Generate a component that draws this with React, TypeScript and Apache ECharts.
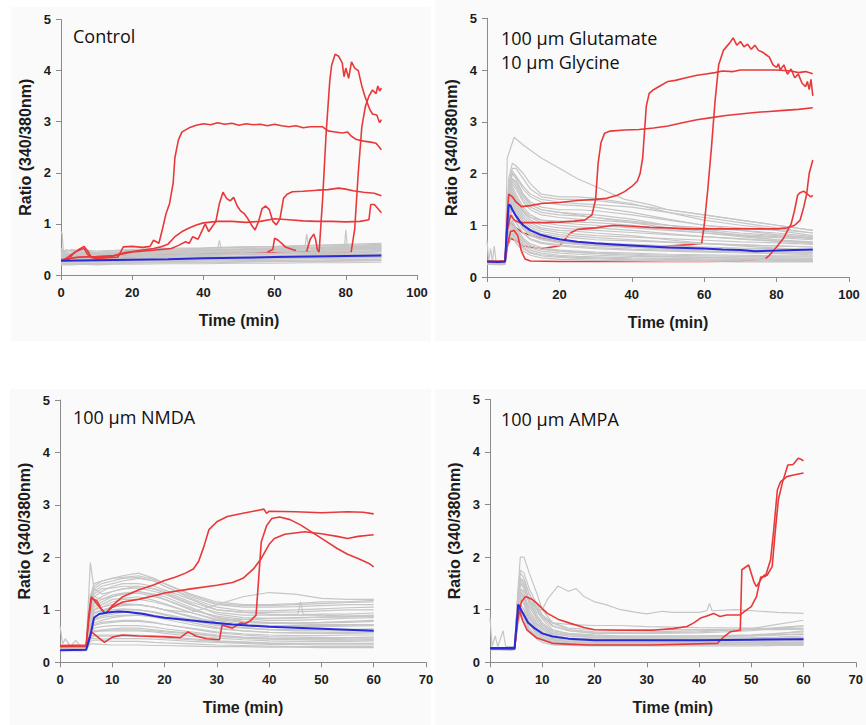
import React, { useEffect, useRef } from "react";
import * as echarts from "echarts";

// ---------------- Control ----------------
const CTRL_T = [0, 1, 3, 6, 10, 15, 20, 30, 40, 50, 60, 70, 80, 90];
const CTRL_GRAY = [
  [0.5, 0.44, 0.46, 0.47, 0.45, 0.47, 0.48, 0.5, 0.52, 0.54, 0.55, 0.57, 0.58, 0.6],
  [0.46, 0.42, 0.43, 0.44, 0.44, 0.45, 0.46, 0.48, 0.5, 0.51, 0.53, 0.54, 0.55, 0.57],
  [0.43, 0.4, 0.41, 0.42, 0.41, 0.43, 0.44, 0.46, 0.47, 0.49, 0.5, 0.52, 0.53, 0.54],
  [0.4, 0.38, 0.39, 0.4, 0.39, 0.41, 0.42, 0.44, 0.45, 0.47, 0.48, 0.49, 0.51, 0.52],
  [0.38, 0.36, 0.37, 0.38, 0.37, 0.38, 0.4, 0.41, 0.43, 0.44, 0.46, 0.47, 0.48, 0.5],
  [0.35, 0.34, 0.35, 0.36, 0.35, 0.36, 0.38, 0.39, 0.41, 0.42, 0.43, 0.45, 0.46, 0.47],
  [0.33, 0.32, 0.33, 0.34, 0.33, 0.34, 0.36, 0.37, 0.38, 0.4, 0.41, 0.42, 0.43, 0.45],
  [0.31, 0.3, 0.31, 0.32, 0.31, 0.32, 0.33, 0.35, 0.36, 0.37, 0.38, 0.4, 0.41, 0.42],
  [0.29, 0.28, 0.29, 0.3, 0.29, 0.3, 0.31, 0.33, 0.34, 0.35, 0.36, 0.37, 0.38, 0.4],
  [0.27, 0.26, 0.27, 0.28, 0.27, 0.28, 0.29, 0.3, 0.31, 0.32, 0.33, 0.34, 0.35, 0.37],
  [0.25, 0.25, 0.25, 0.26, 0.25, 0.26, 0.27, 0.28, 0.29, 0.3, 0.31, 0.32, 0.33, 0.34],
  [0.23, 0.23, 0.23, 0.24, 0.23, 0.24, 0.25, 0.26, 0.27, 0.28, 0.28, 0.29, 0.3, 0.31],
  [0.21, 0.21, 0.21, 0.22, 0.21, 0.22, 0.23, 0.24, 0.24, 0.25, 0.26, 0.26, 0.27, 0.28],
  [0.2, 0.2, 0.2, 0.21, 0.2, 0.21, 0.21, 0.22, 0.22, 0.23, 0.23, 0.24, 0.24, 0.25],
  [0.48, 0.45, 0.5, 0.46, 0.43, 0.44, 0.45, 0.47, 0.49, 0.5, 0.51, 0.53, 0.56, 0.58],
  [0.36, 0.35, 0.34, 0.36, 0.34, 0.35, 0.37, 0.38, 0.39, 0.41, 0.42, 0.44, 0.45, 0.48],
  [0.52, 0.47, 0.48, 0.49, 0.47, 0.48, 0.5, 0.52, 0.53, 0.55, 0.56, 0.58, 0.6, 0.62],
  [0.44, 0.41, 0.42, 0.43, 0.42, 0.44, 0.45, 0.47, 0.48, 0.5, 0.52, 0.53, 0.54, 0.56],
  [0.39, 0.37, 0.38, 0.39, 0.38, 0.4, 0.41, 0.43, 0.44, 0.46, 0.47, 0.48, 0.5, 0.51],
  [0.34, 0.33, 0.34, 0.35, 0.34, 0.35, 0.37, 0.38, 0.4, 0.41, 0.42, 0.44, 0.45, 0.46],
  [0.3, 0.29, 0.3, 0.31, 0.3, 0.31, 0.32, 0.34, 0.35, 0.36, 0.37, 0.39, 0.4, 0.41],
  [0.26, 0.26, 0.26, 0.27, 0.26, 0.27, 0.28, 0.29, 0.3, 0.31, 0.32, 0.33, 0.34, 0.35],
  [0.22, 0.22, 0.22, 0.23, 0.22, 0.23, 0.24, 0.25, 0.25, 0.26, 0.27, 0.27, 0.28, 0.29],
  [0.42, 0.39, 0.4, 0.41, 0.4, 0.42, 0.43, 0.45, 0.46, 0.48, 0.49, 0.51, 0.52, 0.53],
];
const CTRL_GRAY_EXTRA = [
  [[0, 0.85], [0.3, 0.82], [0.7, 0.45], [1.5, 0.5], [3, 0.46]],
  [[60, 0.5], [68.5, 0.52], [69, 0.8], [69.6, 0.52], [75, 0.5]],
  [[75, 0.5], [79.6, 0.52], [80, 0.88], [80.5, 0.5], [85, 0.52]],
  [[40, 0.47], [44, 0.5], [44.5, 0.68], [45, 0.5], [50, 0.5]],
];
// red segments that lie beneath the gray cloud
const CTRL_RED_UNDER = [
  [[0, 0.35], [10, 0.36], [20, 0.38], [30, 0.4], [40, 0.42], [50, 0.43], [60, 0.44], [65, 0.45], [69, 0.46]],
  [[0, 0.3], [10, 0.33], [20, 0.36], [30, 0.38], [40, 0.4], [50, 0.42], [58, 0.45]],
  [[66, 0.48], [70, 0.45], [75, 0.44], [80, 0.44], [81.5, 0.45]],
];
const CTRL_RED = [
  [[1, 0.3], [2.5, 0.38], [4, 0.45], [5.5, 0.5], [6.5, 0.52], [7.5, 0.4], [8.5, 0.35], [10, 0.33], [13, 0.34], [16, 0.35], [17.5, 0.55], [20, 0.56], [23, 0.54], [25, 0.56], [26, 0.68], [27.5, 0.62], [28.5, 0.9], [29.5, 1.2], [30.5, 1.4], [31.5, 1.8], [32, 2.3], [33, 2.65], [34, 2.8], [36, 2.88], [38, 2.93], [40, 2.96], [42, 2.94], [44, 2.98], [46, 2.95], [48, 2.97], [50, 2.93], [52, 2.96], [54, 2.94], [56, 2.95], [58, 2.92], [60, 2.95], [62, 2.92], [64, 2.9], [66, 2.92], [68, 2.88], [70, 2.9], [72, 2.9], [73.5, 2.9], [75, 2.82], [77, 2.8], [79, 2.78], [80.5, 2.8], [81.5, 2.72], [83, 2.65], [85, 2.62], [87, 2.6], [88.5, 2.58], [90, 2.45]],
  [[69, 0.46], [70, 0.7], [71, 0.8], [71.5, 0.7], [72, 0.5], [72.5, 0.45], [73.5, 1.5], [74.5, 2.8], [75.5, 3.8], [76, 4.1], [77, 4.32], [78, 4.28], [79, 4.15], [79.5, 3.88], [80, 4.05], [80.8, 3.85], [81.6, 4.17], [82.5, 4.05], [83.5, 4.0], [84.5, 3.7], [85.4, 3.49], [86.8, 3.23], [87.5, 3.15], [88.7, 3.13], [89.5, 2.98], [90, 3.04]],
  [[58, 0.45], [59.5, 0.5], [60, 0.72], [61, 0.68], [62, 0.62], [63, 0.55], [65, 0.5], [66, 0.48]],
  [[81.5, 0.45], [82.5, 0.9], [83.5, 2.0], [84.5, 2.9], [85.5, 3.3], [86.5, 3.5], [87.5, 3.62], [88.5, 3.55], [89, 3.7], [89.5, 3.6], [90, 3.66]],
  [[0, 0.3], [5, 0.35], [10, 0.36], [15, 0.38], [20, 0.45], [25, 0.48], [28, 0.5], [31, 0.52], [33, 0.58], [35, 0.65], [36, 0.62], [37, 0.75], [38.5, 0.7], [39.5, 0.85], [40.5, 1.0], [41.5, 0.85], [42.5, 0.95], [43.5, 1.05], [44.5, 1.4], [45.5, 1.62], [46.5, 1.5], [47.5, 1.45], [48.5, 1.52], [49.5, 1.35], [50.5, 1.25], [51.5, 1.2], [52.5, 1.1], [53.5, 0.98], [54.5, 0.88], [55.5, 1.05], [56.5, 1.3], [57.5, 1.35], [58.5, 1.28], [59.5, 1.05], [60.5, 0.98], [61.5, 1.1], [62.5, 1.5], [63.5, 1.58], [65, 1.63], [68, 1.64], [72, 1.66], [75, 1.67], [78, 1.7], [80, 1.68], [82, 1.65], [85, 1.62], [88, 1.6], [90, 1.55]],
  [[1, 0.28], [2, 0.3], [3.5, 0.42], [5, 0.5], [6.5, 0.56], [7.5, 0.47], [8.5, 0.35], [10, 0.32], [12, 0.34], [14, 0.36], [16, 0.4], [18, 0.44], [20, 0.46], [22, 0.48], [24, 0.5], [26, 0.52], [28, 0.55], [30, 0.6], [32, 0.75], [34, 0.85], [36, 0.92], [38, 0.98], [40, 1.02], [44, 1.05], [48, 1.05], [52, 1.03], [56, 1.05], [60, 1.1], [64, 1.08], [68, 1.06], [72, 1.05], [76, 1.05], [80, 1.04], [84, 1.05], [86.5, 1.08], [87, 1.38], [88, 1.38], [89, 1.3], [90, 1.22]],
];
const CTRL_BLUE = [[0, 0.28], [10, 0.29], [20, 0.3], [30, 0.31], [40, 0.33], [50, 0.34], [60, 0.35], [70, 0.36], [80, 0.37], [90, 0.38]];

// ---------------- Glutamate / Glycine ----------------
const GLU_T = [0, 2, 4, 5, 6, 7, 8, 10, 12, 15, 20, 25, 30, 40, 50, 60, 70, 80, 90];
const GLU_GRAY = [
  [0.3, 0.28, 0.27, 0.28, 1.8, 2.1, 2.1, 1.9, 1.7, 1.55, 1.5, 1.5, 1.48, 1.4, 1.3, 1.2, 1.1, 1.0, 0.9],
  [0.32, 0.3, 0.29, 0.3, 1.7, 2.0, 1.95, 1.75, 1.6, 1.5, 1.45, 1.42, 1.4, 1.35, 1.25, 1.15, 1.05, 0.95, 0.85],
  [0.28, 0.27, 0.26, 0.28, 1.6, 1.9, 1.85, 1.6, 1.45, 1.35, 1.3, 1.3, 1.28, 1.2, 1.1, 1.0, 0.95, 0.9, 0.8],
  [0.3, 0.29, 0.28, 0.29, 1.5, 1.8, 1.7, 1.45, 1.3, 1.2, 1.15, 1.12, 1.1, 1.05, 1.0, 0.95, 0.9, 0.85, 0.78],
  [0.27, 0.26, 0.26, 0.27, 1.5, 1.75, 1.6, 1.35, 1.2, 1.1, 1.05, 1.02, 1.0, 0.95, 0.9, 0.85, 0.8, 0.76, 0.72],
  [0.29, 0.28, 0.27, 0.28, 1.4, 1.65, 1.5, 1.25, 1.1, 1.0, 0.95, 0.92, 0.9, 0.86, 0.82, 0.78, 0.74, 0.7, 0.66],
  [0.26, 0.25, 0.25, 0.26, 1.3, 1.55, 1.4, 1.15, 1.0, 0.92, 0.86, 0.83, 0.8, 0.77, 0.74, 0.71, 0.68, 0.66, 0.63],
  [0.3, 0.3, 0.29, 0.3, 1.25, 1.45, 1.3, 1.05, 0.92, 0.84, 0.78, 0.75, 0.72, 0.7, 0.67, 0.64, 0.62, 0.6, 0.58],
  [0.27, 0.26, 0.26, 0.27, 1.2, 1.4, 1.25, 1.0, 0.86, 0.78, 0.72, 0.68, 0.66, 0.63, 0.6, 0.58, 0.56, 0.55, 0.53],
  [0.28, 0.27, 0.27, 0.28, 1.1, 1.3, 1.15, 0.92, 0.8, 0.72, 0.66, 0.63, 0.6, 0.57, 0.55, 0.53, 0.52, 0.5, 0.5],
  [0.26, 0.25, 0.25, 0.26, 1.05, 1.2, 1.05, 0.85, 0.72, 0.65, 0.6, 0.57, 0.55, 0.52, 0.5, 0.48, 0.47, 0.46, 0.46],
  [0.29, 0.28, 0.28, 0.29, 1.0, 1.1, 0.95, 0.75, 0.64, 0.57, 0.52, 0.5, 0.48, 0.46, 0.44, 0.43, 0.42, 0.41, 0.41],
  [0.25, 0.25, 0.24, 0.25, 0.9, 1.0, 0.85, 0.66, 0.56, 0.5, 0.46, 0.44, 0.42, 0.4, 0.39, 0.38, 0.37, 0.37, 0.36],
  [0.28, 0.27, 0.27, 0.28, 0.8, 0.9, 0.75, 0.58, 0.48, 0.43, 0.4, 0.38, 0.37, 0.35, 0.34, 0.33, 0.33, 0.32, 0.32],
  [0.26, 0.26, 0.25, 0.26, 0.7, 0.8, 0.65, 0.5, 0.42, 0.37, 0.34, 0.33, 0.32, 0.31, 0.3, 0.3, 0.29, 0.29, 0.29],
  [0.31, 0.3, 0.3, 0.31, 1.9, 2.2, 2.15, 2.0, 1.8, 1.6, 1.55, 1.55, 1.52, 1.42, 1.25, 1.1, 1.0, 0.92, 0.85],
  [0.3, 0.28, 0.28, 0.29, 1.6, 1.9, 1.8, 1.55, 1.4, 1.3, 1.25, 1.22, 1.2, 1.12, 1.0, 0.9, 0.8, 0.72, 0.65],
  [0.27, 0.27, 0.26, 0.27, 1.35, 1.6, 1.45, 1.2, 1.05, 0.95, 0.9, 0.88, 0.85, 0.8, 0.72, 0.65, 0.6, 0.56, 0.52],
  [0.28, 0.28, 0.27, 0.28, 1.15, 1.35, 1.2, 0.95, 0.82, 0.74, 0.68, 0.65, 0.62, 0.58, 0.54, 0.5, 0.47, 0.45, 0.43],
  [0.29, 0.28, 0.27, 0.28, 0.95, 1.05, 0.9, 0.72, 0.6, 0.54, 0.5, 0.47, 0.45, 0.42, 0.4, 0.38, 0.36, 0.35, 0.34],
  [0.26, 0.25, 0.25, 0.26, 1.7, 2.0, 1.9, 1.6, 1.4, 1.3, 1.25, 1.2, 1.15, 1.05, 0.95, 0.88, 0.82, 0.78, 0.75],
  [0.29, 0.28, 0.27, 0.28, 1.55, 1.85, 1.75, 1.5, 1.35, 1.25, 1.2, 1.18, 1.15, 1.08, 1.0, 0.92, 0.85, 0.8, 0.74],
  [0.27, 0.26, 0.26, 0.27, 1.45, 1.7, 1.55, 1.3, 1.15, 1.05, 1.0, 0.97, 0.95, 0.9, 0.84, 0.78, 0.73, 0.69, 0.66],
  [0.28, 0.27, 0.27, 0.28, 1.3, 1.5, 1.35, 1.1, 0.96, 0.88, 0.82, 0.79, 0.76, 0.72, 0.68, 0.65, 0.62, 0.6, 0.58],
  [0.26, 0.25, 0.25, 0.26, 1.2, 1.35, 1.2, 0.98, 0.85, 0.77, 0.7, 0.67, 0.64, 0.6, 0.57, 0.55, 0.53, 0.52, 0.51],
  [0.3, 0.29, 0.28, 0.29, 1.05, 1.2, 1.05, 0.85, 0.74, 0.67, 0.62, 0.59, 0.57, 0.54, 0.52, 0.5, 0.49, 0.48, 0.47],
  [0.27, 0.27, 0.26, 0.27, 0.95, 1.05, 0.9, 0.7, 0.6, 0.54, 0.5, 0.48, 0.46, 0.44, 0.42, 0.41, 0.4, 0.39, 0.39],
  [0.25, 0.24, 0.24, 0.25, 0.85, 0.95, 0.8, 0.62, 0.52, 0.46, 0.42, 0.4, 0.39, 0.37, 0.36, 0.35, 0.34, 0.34, 0.33],
  [0.28, 0.27, 0.27, 0.28, 1.75, 2.05, 1.95, 1.7, 1.55, 1.45, 1.4, 1.38, 1.35, 1.25, 1.12, 1.0, 0.9, 0.82, 0.76],
  [0.26, 0.26, 0.25, 0.26, 1.4, 1.6, 1.5, 1.28, 1.15, 1.1, 1.08, 1.06, 1.05, 1.0, 0.92, 0.85, 0.78, 0.72, 0.68],
  [0.29, 0.28, 0.28, 0.29, 0.75, 0.85, 0.7, 0.55, 0.46, 0.41, 0.38, 0.36, 0.35, 0.33, 0.32, 0.31, 0.31, 0.3, 0.3],
];
const GLU_GRAY_EXTRA = [
  [[0, 0.3], [5, 0.3], [5.6, 2.3], [7.5, 2.7], [10, 2.55], [15, 2.3], [20, 2.1], [25, 1.9], [30, 1.75], [38, 1.5], [45, 1.4], [50, 1.3], [60, 1.2], [70, 1.1], [80, 1.0], [90, 0.9]],
  [[0, 0.7], [0.5, 0.3], [1, 0.55], [1.5, 0.3], [2, 0.6], [2.5, 0.3], [5, 0.3]],
];
const GLU_RED_UNDER = [
  [[0, 0.3], [5, 0.3], [5.6, 0.9], [6.5, 1.05], [8, 0.95], [10, 0.85], [15, 0.75], [20, 0.68], [30, 0.62], [40, 0.6], [50, 0.6], [55, 0.62], [59.3, 0.65]],
  [[0, 0.3], [5, 0.3], [5.6, 0.6], [6.5, 0.75], [8, 0.7], [10, 0.6], [15, 0.55], [20, 0.6], [23, 0.85]],
  [[9.5, 0.5], [10.5, 0.35], [12, 0.31], [20, 0.3], [30, 0.3], [40, 0.3], [50, 0.3], [60, 0.3], [70, 0.31], [74, 0.33], [77, 0.36]],
];
const GLU_RED = [
  [[0, 0.3], [5, 0.3], [5.6, 1.2], [6, 1.6], [7, 1.55], [8, 1.45], [9.5, 1.36], [12, 1.38], [15, 1.42], [20, 1.44], [25, 1.48], [30, 1.5], [33, 1.52], [36, 1.58], [38, 1.65], [40, 1.75], [41.5, 1.85], [42.3, 2.0], [43, 2.3], [43.5, 2.8], [44, 3.3], [44.8, 3.55], [46, 3.62], [48, 3.7], [50, 3.78], [52, 3.8], [55, 3.85], [58, 3.9], [60, 3.92], [63, 3.95], [65, 3.98], [68, 3.97], [70, 4.0], [75, 4.0], [80, 4.0], [84, 3.98], [86, 3.95], [88, 3.97], [90, 3.93]],
  [[0, 0.3], [5, 0.3], [5.6, 0.9], [6.5, 1.2], [7.5, 1.1], [9, 1.05], [12, 1.05], [16, 1.05], [20, 1.06], [24, 1.08], [27, 1.1], [29, 1.2], [30, 1.5], [30.7, 2.2], [31.5, 2.6], [32.5, 2.78], [34, 2.82], [38, 2.84], [42, 2.85], [46, 2.88], [50, 2.92], [54, 2.98], [58, 3.04], [62, 3.08], [66, 3.12], [70, 3.15], [74, 3.18], [78, 3.2], [82, 3.22], [86, 3.24], [90, 3.27]],
  [[59.3, 0.65], [60, 1.0], [61, 1.7], [62, 2.5], [63, 3.4], [64, 4.1], [65.3, 4.38], [67, 4.52], [68, 4.62], [69, 4.48], [70, 4.55], [71, 4.45], [72, 4.5], [73, 4.4], [74, 4.48], [75, 4.38], [76, 4.35], [77, 4.3], [78, 4.25], [79, 4.1], [80, 4.05], [80.5, 4.12], [81, 4.0], [82, 4.1], [83, 3.92], [84, 4.02], [85, 3.85], [86, 3.92], [87, 3.75], [88, 3.68], [88.5, 3.78], [89, 3.62], [89.5, 3.82], [90, 3.5]],
  [[23, 0.85], [25, 0.92], [30, 0.95], [35, 1.0], [40, 0.98], [45, 0.96], [50, 0.95], [55, 0.93], [60, 0.93], [65, 0.93], [70, 0.93], [75, 0.93], [80, 0.93], [83, 0.95], [85, 1.0], [86.5, 1.1], [87.5, 1.35], [88.3, 1.6], [89, 2.0], [90, 2.26]],
  [[0, 0.3], [5, 0.3], [5.6, 0.6], [6.5, 0.88], [7.5, 0.9], [8.5, 0.8], [9.5, 0.5]],
  [[77, 0.36], [78, 0.42], [80, 0.58], [82, 0.76], [84, 1.02], [85, 1.3], [85.8, 1.58], [86.5, 1.63], [87.5, 1.66], [88.5, 1.6], [89.5, 1.55], [90, 1.58]],
];
const GLU_BLUE = [[0, 0.3], [3, 0.29], [5, 0.3], [5.4, 0.8], [6, 1.4], [6.5, 1.38], [7, 1.3], [8, 1.18], [9, 1.08], [10, 1.0], [12, 0.9], [15, 0.81], [18, 0.76], [20, 0.73], [25, 0.68], [30, 0.65], [35, 0.63], [40, 0.61], [45, 0.59], [50, 0.57], [55, 0.56], [60, 0.55], [65, 0.53], [70, 0.52], [74, 0.5], [80, 0.51], [85, 0.52], [90, 0.53]];

// ---------------- NMDA ----------------
const NMDA_T = [0, 2, 4, 5, 5.8, 6.5, 8, 10, 12, 15, 18, 20, 25, 30, 35, 40, 45, 50, 55, 60];
const NMDA_GRAY = [
  [0.3, 0.28, 0.28, 0.29, 1.2, 1.45, 1.55, 1.6, 1.65, 1.7, 1.6, 1.5, 1.3, 1.15, 1.1, 1.1, 1.12, 1.15, 1.15, 1.18],
  [0.28, 0.27, 0.26, 0.27, 1.1, 1.35, 1.45, 1.5, 1.55, 1.6, 1.55, 1.45, 1.25, 1.1, 1.05, 1.05, 1.06, 1.08, 1.1, 1.1],
  [0.3, 0.29, 0.28, 0.3, 1.0, 1.25, 1.35, 1.45, 1.5, 1.5, 1.45, 1.38, 1.2, 1.0, 0.95, 0.95, 0.96, 0.98, 1.0, 1.0],
  [0.27, 0.26, 0.26, 0.27, 0.95, 1.15, 1.25, 1.35, 1.4, 1.42, 1.35, 1.3, 1.1, 0.95, 0.9, 0.9, 0.9, 0.92, 0.92, 0.94],
  [0.29, 0.28, 0.27, 0.28, 0.9, 1.05, 1.15, 1.25, 1.3, 1.32, 1.25, 1.2, 1.0, 0.88, 0.82, 0.8, 0.8, 0.82, 0.84, 0.85],
  [0.26, 0.25, 0.25, 0.26, 0.85, 1.0, 1.05, 1.15, 1.2, 1.2, 1.15, 1.1, 0.95, 0.82, 0.76, 0.74, 0.74, 0.75, 0.76, 0.78],
  [0.28, 0.27, 0.27, 0.28, 0.8, 0.95, 1.0, 1.05, 1.1, 1.1, 1.05, 1.0, 0.88, 0.76, 0.7, 0.68, 0.68, 0.68, 0.69, 0.7],
  [0.25, 0.25, 0.24, 0.25, 0.75, 0.88, 0.92, 0.95, 1.0, 1.0, 0.95, 0.9, 0.8, 0.7, 0.65, 0.62, 0.62, 0.62, 0.63, 0.64],
  [0.27, 0.26, 0.26, 0.27, 0.7, 0.8, 0.85, 0.88, 0.9, 0.9, 0.86, 0.82, 0.72, 0.64, 0.6, 0.57, 0.56, 0.56, 0.57, 0.58],
  [0.24, 0.24, 0.23, 0.24, 0.65, 0.72, 0.76, 0.78, 0.8, 0.8, 0.76, 0.72, 0.65, 0.58, 0.54, 0.52, 0.51, 0.51, 0.52, 0.52],
  [0.26, 0.25, 0.25, 0.26, 0.6, 0.65, 0.68, 0.7, 0.7, 0.7, 0.67, 0.64, 0.58, 0.52, 0.48, 0.46, 0.45, 0.45, 0.46, 0.46],
  [0.23, 0.23, 0.22, 0.23, 0.55, 0.58, 0.6, 0.6, 0.6, 0.6, 0.58, 0.55, 0.5, 0.46, 0.43, 0.41, 0.4, 0.4, 0.4, 0.41],
  [0.25, 0.24, 0.24, 0.25, 0.45, 0.5, 0.5, 0.5, 0.5, 0.5, 0.48, 0.46, 0.43, 0.4, 0.38, 0.36, 0.35, 0.35, 0.35, 0.35],
  [0.22, 0.22, 0.22, 0.22, 0.4, 0.42, 0.42, 0.4, 0.4, 0.4, 0.38, 0.37, 0.35, 0.33, 0.32, 0.31, 0.3, 0.3, 0.3, 0.3],
  [0.29, 0.28, 0.28, 0.29, 1.9, 1.4, 1.3, 1.35, 1.4, 1.45, 1.4, 1.35, 1.15, 1.0, 0.95, 0.92, 0.9, 0.9, 0.88, 0.88],
  [0.27, 0.27, 0.26, 0.27, 1.3, 1.25, 1.2, 1.25, 1.3, 1.35, 1.3, 1.25, 1.05, 0.85, 0.78, 0.75, 0.73, 0.72, 0.72, 0.72],
  [0.26, 0.25, 0.25, 0.26, 1.0, 0.95, 0.98, 1.0, 1.02, 1.0, 0.96, 0.92, 0.82, 0.72, 0.66, 0.62, 0.6, 0.6, 0.6, 0.6],
  [0.28, 0.27, 0.27, 0.28, 0.7, 0.6, 0.6, 0.62, 0.62, 0.62, 0.6, 0.58, 0.54, 0.5, 0.47, 0.45, 0.44, 0.44, 0.43, 0.43],
  [0.27, 0.26, 0.26, 0.27, 0.9, 1.0, 1.05, 1.1, 1.12, 1.1, 1.05, 1.0, 0.95, 1.1, 1.25, 1.33, 1.3, 1.22, 1.2, 1.2],
  [0.24, 0.24, 0.23, 0.24, 0.35, 0.35, 0.34, 0.33, 0.33, 0.33, 0.32, 0.32, 0.31, 0.3, 0.3, 0.29, 0.29, 0.28, 0.28, 0.28],
  [0.29, 0.28, 0.27, 0.28, 1.15, 1.4, 1.5, 1.55, 1.6, 1.62, 1.55, 1.45, 1.22, 1.05, 0.98, 0.98, 1.0, 1.02, 1.04, 1.05],
  [0.27, 0.26, 0.26, 0.27, 1.05, 1.3, 1.4, 1.42, 1.45, 1.45, 1.4, 1.32, 1.12, 0.92, 0.85, 0.84, 0.84, 0.86, 0.88, 0.9],
  [0.26, 0.25, 0.25, 0.26, 0.95, 1.1, 1.2, 1.28, 1.32, 1.35, 1.28, 1.2, 1.02, 0.85, 0.78, 0.76, 0.75, 0.76, 0.78, 0.8],
  [0.28, 0.27, 0.26, 0.27, 0.88, 1.0, 1.1, 1.2, 1.22, 1.25, 1.18, 1.12, 0.95, 0.8, 0.72, 0.7, 0.7, 0.7, 0.71, 0.72],
  [0.25, 0.24, 0.24, 0.25, 0.8, 0.92, 0.98, 1.05, 1.08, 1.1, 1.05, 1.0, 0.86, 0.72, 0.66, 0.63, 0.62, 0.62, 0.62, 0.63],
  [0.27, 0.26, 0.26, 0.27, 0.72, 0.82, 0.88, 0.92, 0.95, 0.95, 0.9, 0.86, 0.76, 0.66, 0.6, 0.57, 0.56, 0.55, 0.55, 0.56],
  [0.24, 0.24, 0.23, 0.24, 0.62, 0.7, 0.74, 0.76, 0.78, 0.78, 0.75, 0.72, 0.64, 0.56, 0.52, 0.49, 0.48, 0.47, 0.47, 0.48],
  [0.26, 0.25, 0.25, 0.26, 0.55, 0.6, 0.62, 0.64, 0.65, 0.65, 0.62, 0.6, 0.55, 0.5, 0.46, 0.44, 0.43, 0.42, 0.42, 0.43],
  [0.23, 0.23, 0.22, 0.23, 0.5, 0.52, 0.52, 0.52, 0.52, 0.52, 0.5, 0.48, 0.45, 0.41, 0.39, 0.37, 0.36, 0.36, 0.36, 0.36],
  [0.28, 0.27, 0.27, 0.28, 1.25, 1.5, 1.55, 1.6, 1.62, 1.65, 1.58, 1.5, 1.28, 1.12, 1.08, 1.08, 1.1, 1.12, 1.14, 1.15],
  [0.26, 0.25, 0.25, 0.26, 0.65, 0.75, 0.8, 0.85, 0.88, 0.9, 0.88, 0.85, 0.8, 0.8, 0.82, 0.84, 0.85, 0.86, 0.86, 0.88],
  [0.25, 0.25, 0.24, 0.25, 0.45, 0.45, 0.44, 0.45, 0.45, 0.45, 0.44, 0.43, 0.4, 0.38, 0.36, 0.34, 0.34, 0.33, 0.33, 0.33],
];
const NMDA_GRAY_EXTRA = [
  [[0, 0.7], [0.5, 0.35], [1, 0.45], [2, 0.3], [3, 0.42], [4, 0.3], [5, 0.3]],
  [[40, 0.9], [45.5, 0.92], [46, 1.15], [46.5, 0.92], [50, 0.9]],
];
const NMDA_RED_UNDER: number[][][] = [];
const NMDA_RED = [
  [[0, 0.32], [5, 0.33], [5.5, 0.8], [6, 1.22], [7, 1.18], [8, 1.0], [8.7, 0.93], [10, 1.08], [12, 1.25], [15, 1.38], [18, 1.48], [20, 1.56], [22, 1.62], [24, 1.7], [25.5, 1.78], [26.5, 1.92], [27.5, 2.2], [28.5, 2.53], [30, 2.68], [32, 2.78], [35, 2.84], [38, 2.9], [39, 2.92], [39.5, 2.84], [40, 2.88], [45, 2.87], [50, 2.85], [55, 2.87], [58, 2.86], [60, 2.83]],
  [[0, 0.3], [5, 0.31], [5.5, 0.9], [6, 1.25], [7, 1.12], [8, 1.0], [8.7, 0.93], [10, 1.05], [12, 1.15], [15, 1.2], [18, 1.27], [20, 1.32], [25, 1.4], [30, 1.47], [33, 1.52], [35, 1.6], [37, 1.78], [38.5, 1.98], [40, 2.25], [41, 2.36], [43, 2.44], [46.8, 2.49], [50, 2.45], [53, 2.4], [55, 2.36], [57, 2.4], [60, 2.43]],
  [[0, 0.3], [5, 0.3], [5.5, 0.45], [6, 0.58], [7, 0.5], [8.5, 0.38], [10, 0.48], [12, 0.52], [15, 0.5], [20, 0.49], [23, 0.47], [24.5, 0.58], [26, 0.5], [28, 0.45], [30.5, 0.43], [31, 0.71], [32, 0.68], [33, 0.65], [34.5, 0.75], [35.5, 0.74], [36.5, 0.8], [37.5, 0.9], [38, 1.6], [38.5, 2.3], [39.5, 2.6], [40.5, 2.74], [42, 2.77], [44, 2.72], [46, 2.62], [48, 2.49], [51, 2.3], [53, 2.17], [55, 2.06], [57, 1.98], [59, 1.89], [60, 1.82]],
];
const NMDA_BLUE = [[0, 0.23], [5, 0.24], [5.8, 0.5], [6.5, 0.85], [7.5, 0.92], [9, 0.95], [11, 0.97], [13, 0.96], [16, 0.92], [18, 0.88], [20, 0.85], [23, 0.82], [27, 0.78], [30, 0.75], [33, 0.72], [36, 0.7], [40, 0.68], [45, 0.66], [50, 0.64], [55, 0.62], [60, 0.6]];

// ---------------- AMPA ----------------
const AMPA_T = [0, 2, 4, 4.7, 5.3, 5.8, 6.5, 7.5, 9, 10, 12, 15, 20, 25, 30, 40, 50, 55, 60];
const AMPA_GRAY = [
  [0.28, 0.27, 0.26, 0.27, 1.2, 1.6, 1.5, 1.2, 0.9, 0.75, 0.6, 0.55, 0.52, 0.5, 0.5, 0.5, 0.5, 0.52, 0.54],
  [0.27, 0.26, 0.26, 0.27, 1.1, 1.5, 1.45, 1.15, 0.85, 0.7, 0.55, 0.5, 0.47, 0.46, 0.46, 0.46, 0.47, 0.48, 0.5],
  [0.26, 0.26, 0.25, 0.26, 1.0, 1.4, 1.3, 1.0, 0.75, 0.62, 0.5, 0.46, 0.44, 0.43, 0.43, 0.43, 0.44, 0.45, 0.46],
  [0.28, 0.27, 0.27, 0.28, 0.95, 1.3, 1.2, 0.9, 0.65, 0.55, 0.45, 0.42, 0.4, 0.4, 0.4, 0.4, 0.41, 0.42, 0.43],
  [0.25, 0.25, 0.24, 0.25, 0.9, 1.2, 1.1, 0.8, 0.58, 0.5, 0.42, 0.39, 0.37, 0.37, 0.37, 0.37, 0.38, 0.38, 0.39],
  [0.27, 0.26, 0.26, 0.27, 0.85, 1.1, 1.0, 0.72, 0.52, 0.45, 0.38, 0.36, 0.35, 0.35, 0.35, 0.35, 0.35, 0.36, 0.36],
  [0.26, 0.25, 0.25, 0.26, 0.8, 1.0, 0.9, 0.65, 0.48, 0.42, 0.36, 0.34, 0.33, 0.33, 0.33, 0.33, 0.33, 0.34, 0.34],
  [0.24, 0.24, 0.23, 0.24, 0.7, 0.9, 0.8, 0.58, 0.44, 0.38, 0.33, 0.32, 0.31, 0.31, 0.31, 0.31, 0.31, 0.32, 0.32],
  [0.28, 0.27, 0.27, 0.28, 1.3, 2.0, 2.0, 1.7, 1.3, 1.0, 0.75, 0.62, 0.58, 0.57, 0.58, 0.6, 0.62, 0.66, 0.7],
  [0.27, 0.26, 0.26, 0.27, 1.2, 1.75, 1.7, 1.4, 1.1, 0.9, 0.7, 0.6, 0.56, 0.55, 0.56, 0.58, 0.64, 0.72, 0.8],
  [0.26, 0.26, 0.25, 0.26, 1.15, 1.6, 1.55, 1.3, 1.05, 0.85, 0.68, 0.6, 0.55, 0.55, 0.55, 0.56, 0.6, 0.65, 0.68],
  [0.27, 0.26, 0.26, 0.27, 1.05, 1.4, 1.35, 1.2, 1.0, 0.9, 0.75, 0.65, 0.62, 0.62, 0.62, 0.62, 0.62, 0.62, 0.63],
  [0.25, 0.25, 0.24, 0.25, 0.75, 0.95, 0.95, 0.85, 0.72, 0.65, 0.55, 0.5, 0.48, 0.48, 0.48, 0.48, 0.5, 0.54, 0.6],
  [0.26, 0.26, 0.25, 0.26, 1.1, 1.5, 1.4, 1.15, 0.95, 0.85, 0.75, 0.72, 0.7, 0.7, 0.68, 0.66, 0.65, 0.64, 0.64],
  [0.27, 0.26, 0.26, 0.27, 1.15, 1.55, 1.45, 1.1, 0.8, 0.66, 0.52, 0.46, 0.44, 0.44, 0.44, 0.44, 0.45, 0.46, 0.47],
  [0.26, 0.25, 0.25, 0.26, 1.0, 1.35, 1.25, 0.95, 0.7, 0.58, 0.47, 0.43, 0.41, 0.41, 0.41, 0.41, 0.42, 0.43, 0.44],
  [0.25, 0.25, 0.24, 0.25, 0.9, 1.25, 1.15, 0.85, 0.62, 0.52, 0.43, 0.4, 0.38, 0.38, 0.38, 0.38, 0.39, 0.4, 0.41],
  [0.27, 0.26, 0.26, 0.27, 0.8, 1.1, 1.0, 0.75, 0.55, 0.47, 0.4, 0.37, 0.36, 0.36, 0.36, 0.36, 0.37, 0.37, 0.38],
  [0.24, 0.24, 0.23, 0.24, 0.7, 0.95, 0.85, 0.62, 0.48, 0.42, 0.36, 0.34, 0.33, 0.33, 0.33, 0.33, 0.34, 0.34, 0.35],
  [0.28, 0.27, 0.26, 0.27, 1.25, 1.7, 1.6, 1.3, 1.0, 0.82, 0.62, 0.54, 0.5, 0.49, 0.49, 0.5, 0.52, 0.55, 0.58],
  [0.26, 0.26, 0.25, 0.26, 0.95, 1.3, 1.25, 1.05, 0.85, 0.72, 0.58, 0.52, 0.5, 0.5, 0.5, 0.5, 0.51, 0.52, 0.53],
];
const AMPA_GRAY_EXTRA = [
  [[0, 0.27], [4.7, 0.27], [5.3, 1.0], [6, 1.3], [7.5, 1.2], [9, 1.0], [10, 1.0], [11, 1.2], [13, 1.45], [15, 1.35], [16.5, 1.4], [18, 1.25], [20, 1.15], [22, 1.1], [25, 1.0], [28, 0.95], [30, 0.92], [33, 0.97], [35, 0.95], [40, 0.95], [41.5, 0.98], [42, 1.12], [42.5, 0.98], [47, 1.0], [55, 0.95], [60, 0.93]],
  [[0, 0.85], [0.4, 0.3], [1, 0.5], [1.5, 0.3], [2.5, 0.6], [3, 0.3], [4.7, 0.3]],
];
const AMPA_RED_UNDER: number[][][] = [];
const AMPA_RED = [
  [[0, 0.25], [4.7, 0.25], [5.3, 0.8], [6, 1.15], [6.8, 1.25], [8, 1.2], [9, 1.12], [10, 1.02], [11, 0.93], [13, 0.82], [15.4, 0.74], [18, 0.66], [20, 0.62], [25, 0.61], [31, 0.61], [35, 0.64], [37.7, 0.68], [39, 0.75], [40.3, 0.84], [41.5, 0.88], [42.8, 0.93], [44, 0.87], [45.3, 0.9], [47.9, 0.9], [48.6, 0.96], [50, 1.06], [51, 1.25], [51.8, 1.62], [52.7, 1.63], [53.7, 1.95], [54.3, 2.52], [55, 3.28], [55.6, 3.43], [56.8, 3.53], [58.1, 3.56], [60, 3.6]],
  [[0, 0.25], [4.7, 0.25], [5.5, 1.05], [6.2, 0.8], [7.1, 0.61], [9, 0.46], [12, 0.36], [18.6, 0.33], [31, 0.33], [43.5, 0.36], [44.8, 0.49], [46, 0.58], [47.9, 0.61], [48.2, 1.76], [49.5, 1.85], [50.5, 1.53], [51, 1.44], [52, 1.6], [52.5, 1.66], [53, 1.65], [54, 1.82], [54.6, 2.5], [55.2, 3.1], [56, 3.43], [57, 3.75], [58, 3.76], [59, 3.88], [59.5, 3.86], [60, 3.83]],
];
const AMPA_BLUE = [[0, 0.27], [4.7, 0.27], [5.4, 1.1], [6.2, 0.95], [7.3, 0.75], [8.5, 0.65], [10, 0.55], [12, 0.49], [15, 0.45], [20, 0.42], [30, 0.42], [40, 0.42], [50, 0.43], [60, 0.44]];

const PANEL_TITLES = [["Control"], ["100 µm Glutamate", "10 µm Glycine"], ["100 µm NMDA"], ["100 µm AMPA"]];
const X_MAX = [100, 100, 70, 70];
const X_INTERVAL = [20, 20, 10, 10];
const Y_MAX = 5;
const Y_INTERVAL = 1;
const X_NAME = "Time (min)";
const Y_NAME = "Ratio (340/380nm)";

const PANELS = [
  { t: CTRL_T, gray: CTRL_GRAY, extra: CTRL_GRAY_EXTRA, under: CTRL_RED_UNDER, red: CTRL_RED, blue: CTRL_BLUE },
  { t: GLU_T, gray: GLU_GRAY, extra: GLU_GRAY_EXTRA, under: GLU_RED_UNDER, red: GLU_RED, blue: GLU_BLUE },
  { t: NMDA_T, gray: NMDA_GRAY, extra: NMDA_GRAY_EXTRA, under: NMDA_RED_UNDER, red: NMDA_RED, blue: NMDA_BLUE },
  { t: AMPA_T, gray: AMPA_GRAY, extra: AMPA_GRAY_EXTRA, under: AMPA_RED_UNDER, red: AMPA_RED, blue: AMPA_BLUE },
];

// layout (pixels)
const GRIDS = [
  { left: 61, top: 19.5, width: 356, height: 255.5 },
  { left: 487, top: 18.3, width: 362, height: 258.7 },
  { left: 60, top: 400, width: 366, height: 262.3 },
  { left: 490, top: 399.3, width: 366, height: 263 },
];
const TITLE_POS = [
  { x: 73, y: 36 },
  { x: 501, y: 38 },
  { x: 73, y: 417 },
  { x: 501, y: 419 },
];
const BG_RECTS = [
  { x: 11, y: 7, w: 420, h: 334 },
  { x: 435, y: 0, w: 431, h: 341 },
  { x: 10, y: 389, w: 421, h: 336 },
  { x: 435, y: 389, w: 431, h: 336 },
];

const GRAY = "#c6c6c6";
const RED = "#e8393a";
const BLUE = "#2a2ad8";
const AXIS = "#8a8a8a";
const TEXT = "#1c1c1c";
const FONT = "'Liberation Sans', Arial, sans-serif";

export default function App() {
  const ref = useRef<HTMLDivElement>(null);
  useEffect(() => {
    if (!ref.current) return;
    const chart = echarts.init(ref.current, null, { renderer: "svg" });
    const series: any[] = [];
    PANELS.forEach((p, i) => {
      const common = {
        type: "line",
        xAxisIndex: i,
        yAxisIndex: i,
        showSymbol: false,
        symbol: "none",
        silent: true,
      };
      p.under.forEach((tr) => {
        series.push({ ...common, data: tr, lineStyle: { color: RED, width: 1.6 } });
      });
      p.gray.forEach((row) => {
        series.push({
          ...common,
          data: row.map((v, k) => [p.t[k], v]),
          lineStyle: { color: GRAY, width: 1.2 },
        });
      });
      p.extra.forEach((tr) => {
        series.push({ ...common, data: tr, lineStyle: { color: GRAY, width: 1.2 } });
      });
      p.red.forEach((tr) => {
        series.push({ ...common, data: tr, lineStyle: { color: RED, width: 1.6 } });
      });
      series.push({ ...common, data: p.blue, lineStyle: { color: BLUE, width: 2 } });
    });

    const graphics: any[] = [];
    BG_RECTS.forEach((r) => {
      graphics.push({
        type: "rect",
        z: -1,
        shape: { x: r.x, y: r.y, width: r.w, height: r.h },
        style: { fill: "#fafafa" },
        silent: true,
      });
    });
    PANEL_TITLES.forEach((lines, i) => {
      lines.forEach((txt, j) => {
        graphics.push({
          type: "text",
          x: TITLE_POS[i].x,
          y: TITLE_POS[i].y + j * 24,
          style: {
            text: txt,
            fontFamily: "'Open Sans', 'Noto Sans', sans-serif",
            fontSize: 18,
            fill: "#111111",
            verticalAlign: "middle",
            align: "left",
          },
        });
      });
    });

    chart.setOption({
      animation: false,
      backgroundColor: "#ffffff",
      grid: GRIDS.map((g) => ({ ...g, containLabel: false })),
      xAxis: GRIDS.map((_, i) => ({
        gridIndex: i,
        type: "value",
        min: 0,
        max: X_MAX[i],
        interval: X_INTERVAL[i],
        axisLine: { show: true, onZero: false, lineStyle: { color: AXIS, width: 1 } },
        axisTick: { show: true, length: 5, lineStyle: { color: AXIS } },
        splitLine: { show: false },
        axisLabel: { fontFamily: FONT, fontWeight: "bold", fontSize: 13, color: TEXT, margin: 11 },
        name: X_NAME,
        nameLocation: "middle",
        nameGap: 37,
        nameTextStyle: { fontFamily: FONT, fontWeight: "bold", fontSize: 16, color: TEXT },
      })),
      yAxis: GRIDS.map((_, i) => ({
        gridIndex: i,
        type: "value",
        min: 0,
        max: Y_MAX,
        interval: Y_INTERVAL,
        axisLine: { show: true, onZero: false, lineStyle: { color: AXIS, width: 1 } },
        axisTick: { show: true, length: 5, lineStyle: { color: AXIS } },
        splitLine: { show: false },
        axisLabel: { fontFamily: FONT, fontWeight: "bold", fontSize: 13, color: TEXT, margin: 10 },
        name: Y_NAME,
        nameLocation: "middle",
        nameGap: 28,
        nameTextStyle: { fontFamily: FONT, fontWeight: "bold", fontSize: 16, color: TEXT },
      })),
      graphic: graphics,
      series,
    });
    return () => chart.dispose();
  }, []);
  return (
    <div
      ref={ref}
      style={{ position: "absolute", left: 0, top: 0, width: 866, height: 725 }}
    />
  );
}
